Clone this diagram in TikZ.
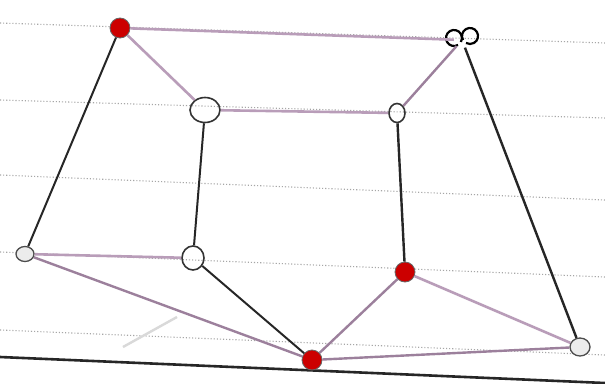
\documentclass[tikz,border=0pt]{standalone}
\usetikzlibrary{shapes.geometric}
\begin{document}
\begin{tikzpicture}[x=1pt,y=-1pt,
  rule/.style={dotted, line width=1.1pt, gray!70},
  redv/.style={circle, fill=red!80!black, draw=black!60, line width=0.8pt, minimum size=20pt, inner sep=0pt},
  openv/.style={ellipse, draw=black!80, line width=1.6pt, minimum width=24pt, minimum height=18pt, inner sep=0pt},
  smallv/.style={ellipse, draw=black!70, fill=gray!15, line width=1.3pt, minimum width=18pt, minimum height=15pt, inner sep=0pt},
  loop/.style={line width=2.2pt, black},
  ink/.style={line width=2pt, black!85},
  lite/.style={line width=2.6pt, gray!60!violet!55},
  mid/.style={line width=2.4pt, black!55!violet!50}]
\useasboundingbox (0,0) rectangle (605,383);
\fill[white] (0,0) rectangle (605,383);
% ruled lines
\draw[rule] (0,23) -- (605,43);
\draw[rule] (0,100) -- (605,118);
\draw[rule] (0,175) -- (605,200);
\draw[rule] (0,252) -- (605,277);
\draw[rule] (0,330) -- (605,355);
\draw[line width=2.6pt, black!85] (0,357) -- (605,383);
% faint pencil stroke
\draw[line width=2.4pt, gray!30] (123,347) -- (177,317);
% vertices
\node[redv] (A) at (120,28) {};
\node[draw=none, circle, minimum size=16pt, inner sep=0pt] (B) at (462,40) {};
\draw[loop] (454,38) ++(60:8) arc[start angle=60, end angle=390, radius=8];
\draw[loop] (470,36) ++(150:8) arc[start angle=150, end angle=480, radius=8];
\node[openv, minimum width=30pt, minimum height=25pt] (C) at (205,110) {};
\node[openv, minimum width=16pt, minimum height=19pt] (D) at (397,113) {};
\node[smallv] (E) at (25,254) {};
\node[openv, minimum width=22pt, minimum height=24pt] (F) at (193,258) {};
\node[redv] (G) at (405,272) {};
\node[redv] (H) at (312,360) {};
\node[smallv, minimum width=20pt, minimum height=18pt] (I) at (580,347) {};
% edges
\draw[lite] (A) -- (B);
\draw[lite] (A) -- (C);
\draw[ink] (A) -- (E);
\draw[mid] (B) -- (D);
\draw[ink, line width=2.4pt] (B) -- (I);
\draw[lite] (C) -- (D);
\draw[ink] (C) -- (F);
\draw[ink, line width=2.4pt] (D) -- (G);
\draw[lite] (E) -- (F);
\draw[mid] (E) -- (H);
\draw[ink] (F) -- (H);
\draw[mid] (G) -- (H);
\draw[lite] (G) -- (I);
\draw[mid] (H) -- (I);
\end{tikzpicture}
\end{document}
